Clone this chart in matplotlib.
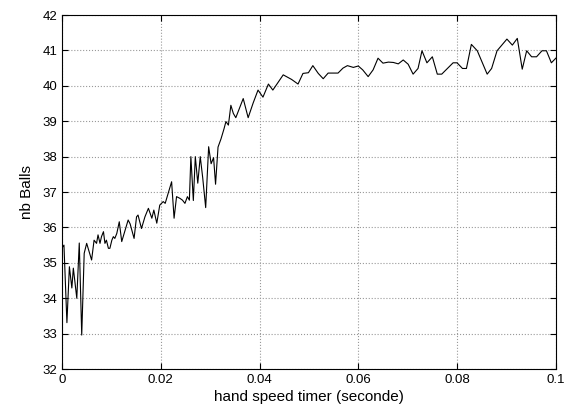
import matplotlib
matplotlib.use("Agg")
import matplotlib.pyplot as plt

plt.rcParams['font.family'] = ['Liberation Sans', 'DejaVu Sans']

# timer values (s) and number of balls
timer = [0.0, 0.0004, 0.0010, 0.0015, 0.0020, 0.0023, 0.0030, 0.0035, 0.0040, 0.0045,
         0.0050, 0.0060, 0.0065, 0.0070, 0.0073, 0.0077, 0.0080, 0.0084, 0.0087, 0.0090,
         0.0094, 0.0097, 0.0101, 0.0104, 0.0107, 0.0111, 0.0116, 0.0121, 0.0128, 0.0134,
         0.0138, 0.0146, 0.0151, 0.0154, 0.0161, 0.0168, 0.0175, 0.0182, 0.0186, 0.0192,
         0.0198, 0.0205, 0.0209, 0.0213, 0.0222, 0.0227, 0.0232, 0.0239, 0.0244, 0.0249,
         0.0254, 0.0258, 0.0261, 0.0266, 0.0270, 0.0275, 0.0280, 0.0285, 0.0291, 0.0297,
         0.0302, 0.0307, 0.0311, 0.0316, 0.0322, 0.0328, 0.0332, 0.0337, 0.0342, 0.0347,
         0.0352, 0.0367, 0.0377, 0.0387, 0.0397, 0.0407, 0.0418, 0.0427, 0.0448, 0.0465,
         0.0478, 0.0488, 0.0499, 0.0508, 0.0519, 0.0529, 0.0539, 0.0559, 0.0569, 0.0578,
         0.0590, 0.0600, 0.0609, 0.0620, 0.0630, 0.0640, 0.0650, 0.0661, 0.0671, 0.0681,
         0.0691, 0.0701, 0.0711, 0.0721, 0.0729, 0.0739, 0.0750, 0.0760, 0.0769, 0.0792,
         0.0800, 0.0811, 0.0819, 0.0829, 0.0841, 0.0861, 0.0870, 0.0881, 0.0901, 0.0912,
         0.0922, 0.0932, 0.0941, 0.0951, 0.0961, 0.0972, 0.0981, 0.0991, 0.1000]
nb_balls = [35.42, 35.50, 33.31, 34.89, 34.29, 34.85, 34.00, 35.56, 32.96, 35.27,
            35.55, 35.08, 35.64, 35.55, 35.79, 35.55, 35.74, 35.88, 35.55, 35.64,
            35.41, 35.41, 35.64, 35.74, 35.69, 35.83, 36.16, 35.60, 35.93, 36.21,
            36.10, 35.69, 36.30, 36.35, 35.97, 36.30, 36.54, 36.26, 36.49, 36.12,
            36.63, 36.73, 36.68, 36.87, 37.29, 36.26, 36.87, 36.82, 36.77, 36.68,
            36.87, 36.77, 38.00, 36.76, 38.00, 37.25, 38.00, 37.40, 36.56, 38.28,
            37.80, 37.97, 37.22, 38.27, 38.50, 38.78, 38.99, 38.89, 39.45, 39.22,
            39.10, 39.64, 39.10, 39.51, 39.88, 39.68, 40.05, 39.88, 40.31, 40.18,
            40.05, 40.35, 40.37, 40.57, 40.35, 40.20, 40.36, 40.36, 40.50, 40.57,
            40.52, 40.56, 40.45, 40.26, 40.45, 40.78, 40.64, 40.67, 40.66, 40.62,
            40.73, 40.61, 40.33, 40.49, 40.99, 40.65, 40.82, 40.33, 40.33, 40.65,
            40.65, 40.49, 40.49, 41.17, 40.99, 40.33, 40.49, 40.99, 41.32, 41.15,
            41.34, 40.47, 40.99, 40.82, 40.82, 40.99, 40.99, 40.65, 40.78]

x_ticks = [0, 0.02, 0.04, 0.06, 0.08, 0.1]
x_labels = ['0', '0.02', '0.04', '0.06', '0.08', '0.1']
y_ticks = [32, 33, 34, 35, 36, 37, 38, 39, 40, 41, 42]

fig = plt.figure(figsize=(5.66, 4.17), dpi=100)
ax = fig.add_axes([0.1095, 0.115, 0.8725, 0.849])

ax.plot(timer, nb_balls, color='black', linewidth=0.8)

ax.set_xlim(0, 0.1)
ax.set_ylim(32, 42)
ax.set_xticks(x_ticks)
ax.set_xticklabels(x_labels)
ax.set_yticks(y_ticks)
ax.tick_params(direction='in', top=True, right=True, labelsize=9.5, length=4, width=0.8)
ax.grid(True, linestyle=':', color='#999999', linewidth=0.8)
for s in ax.spines.values():
    s.set_linewidth(0.8)

ax.set_xlabel('hand speed timer (seconde)', fontsize=11, labelpad=3)
ax.set_ylabel('nb Balls', fontsize=11, labelpad=6)

fig.savefig('out.png', dpi=100)
